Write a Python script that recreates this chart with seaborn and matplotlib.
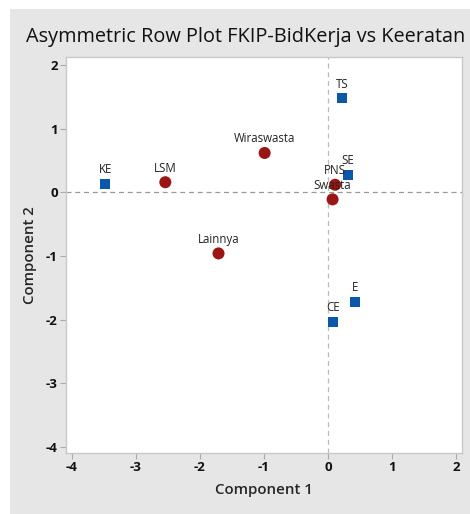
import pandas as pd
import seaborn as sns
import matplotlib.pyplot as plt
from matplotlib.patches import Rectangle

# row points (circles)
row_labels = ['Wiraswasta', 'LSM', 'PNS', 'Swasta', 'Lainnya']
row_x = [-0.99, -2.54, 0.11, 0.07, -1.71]
row_y = [0.62, 0.16, 0.12, -0.11, -0.96]

# column points (squares)
col_labels = ['TS', 'SE', 'KE', 'CE', 'E']
col_x = [0.22, 0.31, -3.48, 0.08, 0.42]
col_y = [1.48, 0.28, 0.13, -2.04, -1.72]

x_ticks = [-4, -3, -2, -1, 0, 1, 2]
y_ticks = [2, 1, 0, -1, -2, -3, -4]

df_row = pd.DataFrame({'label': row_labels, 'c1': row_x, 'c2': row_y})
df_col = pd.DataFrame({'label': col_labels, 'c1': col_x, 'c2': col_y})

sns.set_style('white')
plt.rcParams['font.family'] = ['Open Sans', 'DejaVu Sans']
plt.rcParams['axes.unicode_minus'] = False

fig = plt.figure(figsize=(4.7, 5.14), dpi=100, facecolor='white')
fig.patches.append(Rectangle((10 / 470, 0), 1, 1 - 9 / 514, transform=fig.transFigure,
                             facecolor='#e6e6e6', edgecolor='none', zorder=-10))
ax = fig.add_axes([66 / 470, 1 - 453 / 514, 396 / 470, 396 / 514])
ax.set_facecolor('white')

ax.axhline(0, color='#999999', lw=0.9, ls=(0, (4, 3)), zorder=1)
ax.axvline(0, color='#bbbbbb', lw=0.9, ls=(0, (4, 3)), zorder=1)

sns.scatterplot(data=df_row, x='c1', y='c2', marker='o', s=75, color='#9c1515',
                edgecolor='none', ax=ax, zorder=3)
sns.scatterplot(data=df_col, x='c1', y='c2', marker='s', s=50, color='#0b57a8',
                edgecolor='none', ax=ax, zorder=3)

for lab, x, y in zip(row_labels + col_labels, row_x + col_x, row_y + col_y):
    ax.annotate(lab, (x, y), xytext=(0, 5.5), textcoords='offset points',
                ha='center', va='bottom', fontsize=8.3, color='#222222', zorder=4)

ax.set_xlim(-4.09, 2.09)
ax.set_ylim(-4.1, 2.13)
ax.set_xticks(x_ticks)
ax.set_yticks(y_ticks)
ax.tick_params(axis='both', direction='out', length=4, width=0.8, color='#aaaaaa',
               labelsize=9.5, pad=2, left=True, bottom=True, labelcolor='#111111')
for t in ax.get_xticklabels() + ax.get_yticklabels():
    t.set_fontweight('bold')
for s in ax.spines.values():
    s.set_color('#c8c8c8')
    s.set_linewidth(1)

ax.set_xlabel('Component 1', fontsize=10.8, fontweight='semibold', labelpad=6)
ax.set_ylabel('Component 2', fontsize=10.8, fontweight='semibold', labelpad=6)
fig.text(246 / 470, 1 - 37 / 514, 'Asymmetric Row Plot FKIP-BidKerja vs Keeratan',
         ha='center', va='center', fontsize=14.3, fontweight='medium', color='#111111')

fig.savefig('out.png', dpi=100, facecolor=fig.get_facecolor())
